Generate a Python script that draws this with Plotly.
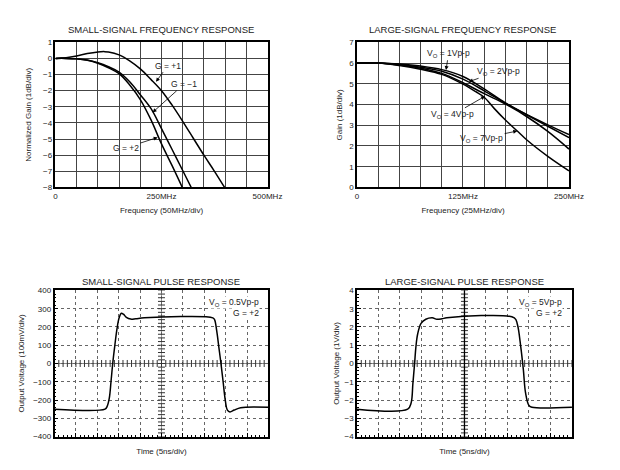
import numpy as np
import plotly.graph_objects as go

# --- small-signal frequency response (MHz, dB) ---
f_g1 = [0, 25, 50, 75, 100, 115, 125, 150, 175, 200, 225, 250, 275, 300, 325, 350, 375, 400]
gain_g1 = [0, 0.04, 0.15, 0.3, 0.4, 0.42, 0.4, 0.22, -0.15, -0.65, -1.3, -2.0, -2.9, -3.9, -4.95, -6.0, -7.0, -8.05]
f_gm1 = [0, 25, 50, 75, 100, 125, 150, 175, 200, 225, 250, 275, 300, 322]
gain_gm1 = [0, 0, -0.03, -0.1, -0.27, -0.52, -0.85, -1.45, -2.25, -3.1, -4.35, -5.65, -6.95, -8.1]
f_g2 = [0, 25, 50, 75, 100, 125, 150, 175, 200, 225, 250, 275, 300]
gain_g2 = [0, 0, -0.03, -0.12, -0.3, -0.58, -0.95, -1.65, -2.55, -3.8, -5.3, -6.65, -8.05]

# --- large-signal frequency response (MHz, dB) ---
f_ls = [0, 25, 50, 75, 100, 125, 150, 175, 200, 225, 250]
gain_1v = [6, 6.0, 5.95, 5.85, 5.68, 5.35, 4.75, 4.08, 3.52, 3.02, 2.55]
gain_2v = [6, 6.0, 5.93, 5.8, 5.6, 5.22, 4.66, 4.06, 3.5, 2.95, 2.4]
gain_4v = [6, 6.0, 5.9, 5.75, 5.5, 5.05, 4.52, 4.02, 3.42, 2.7, 1.85]
f_7v = [0, 25, 50, 75, 100, 125, 140, 150, 162, 175, 189, 200, 225, 250]
gain_7v = [6, 6.0, 5.88, 5.7, 5.45, 4.98, 4.62, 4.35, 3.8, 3.25, 2.72, 2.3, 1.5, 0.8]

# --- small-signal pulse (ns, mV) ---
t_ss = [0, 11.8, 12.3, 12.8, 13.2, 13.6, 14.1, 14.6, 15.1, 15.6, 16.1, 16.8, 17.8, 19.0, 21.0,
        37.0, 37.4, 37.9, 38.4, 38.9, 39.4, 39.9, 40.4, 41.0, 42.0, 43.5, 50]
v_ss = [-250, -250, -235, -190, -100, 0, 100, 190, 250, 275, 270, 252, 243, 245, 250,
        250, 240, 180, 90, 0, -100, -200, -255, -265, -255, -242, -240]

# --- large-signal pulse (ns, V) ---
t_ls = [0, 11.8, 12.6, 13.0, 13.4, 13.7, 14.1, 14.9, 16.0, 17.5, 18.6, 19.8, 20.9,
        36.6, 37.3, 38.1, 38.7, 39.2, 40.0, 40.7, 50]
v_ls = [-2.5, -2.5, -2.15, -1.1, 0, 0.9, 1.6, 2.2, 2.42, 2.5, 2.42, 2.45, 2.5,
        2.5, 2.15, 0.9, -0.35, -1.6, -2.3, -2.4, -2.4]

FONT = "Liberation Sans, Arial, sans-serif"
TXT = "#222"

fig = go.Figure()

def curve(x, y, ax):
    fig.add_trace(go.Scatter(x=x, y=y, mode="lines", line=dict(color="black", width=1.5),
                             line_shape="spline", xaxis="x" + ax, yaxis="y" + ax,
                             showlegend=False, hoverinfo="skip"))

curve(f_g1, gain_g1, "")
curve(f_gm1, gain_gm1, "")
curve(f_g2, gain_g2, "")
curve(f_ls, gain_1v, "2")
curve(f_ls, gain_2v, "2")
curve(f_ls, gain_4v, "2")
curve(f_7v, gain_7v, "2")

# center graticule ticks for the scope plots
for ax, ymin, ystep in (("3", -400, 20), ("4", -4, 0.2)):
    tx = np.arange(0, 51, 1)
    fig.add_trace(go.Scatter(x=tx, y=np.zeros_like(tx, dtype=float), mode="markers",
                             marker=dict(symbol="line-ns", size=5, line=dict(width=1, color="#333")),
                             xaxis="x" + ax, yaxis="y" + ax, showlegend=False, hoverinfo="skip"))
    ty = np.arange(0, 41) * ystep + ymin
    fig.add_trace(go.Scatter(x=np.full_like(ty, 25.0), y=ty, mode="markers",
                             marker=dict(symbol="line-ew", size=5, line=dict(width=1, color="#333")),
                             xaxis="x" + ax, yaxis="y" + ax, showlegend=False, hoverinfo="skip"))

curve(t_ss, v_ss, "3")
curve(t_ls, v_ls, "4")

frame = dict(showline=True, linecolor="black", linewidth=1.5, mirror=True,
             tickfont=dict(family=FONT, size=8, color=TXT), zeroline=False,
             title_font=dict(family=FONT, size=8, color=TXT))
freq_grid = dict(showgrid=True, gridcolor="#444", gridwidth=1, ticks="")
scope = dict(showgrid=True, gridcolor="#666", gridwidth=1, griddash="dot",
             ticks="inside", ticklen=4, tickcolor="black",
             minor=dict(ticks="inside", ticklen=2, tickcolor="black", showgrid=False))

tl_x = list(range(0, 501, 50))
tr_x = list(range(0, 251, 25))
sc_x = list(range(0, 51, 5))

fig.update_layout(
    width=620, height=470, margin=dict(l=0, r=0, t=0, b=0),
    paper_bgcolor="white", plot_bgcolor="white",
    xaxis=dict(domain=[0.0887, 0.4403], range=[0, 500], anchor="y",
               tickvals=tl_x, ticktext=["0", "", "", "", "", "250MHz", "", "", "", "", "500MHz"],
               title=dict(text="Frequency (50MHz/div)", standoff=8), **frame, **freq_grid),
    yaxis=dict(domain=[0.6021, 0.9170], range=[-8, 1], anchor="x", dtick=1,
               title=dict(text="Normalized Gain (1dB/div)", standoff=10), **frame, **freq_grid),
    xaxis2=dict(domain=[0.5887, 0.9403], range=[0, 250], anchor="y2",
                tickvals=tr_x, ticktext=["0", "", "", "", "", "125MHz", "", "", "", "", "250MHz"],
                title=dict(text="Frequency (25MHz/div)", standoff=8), **frame, **freq_grid),
    yaxis2=dict(domain=[0.6021, 0.9170], range=[0, 7], anchor="x2", dtick=1,
                title=dict(text="Gain (1dB/div)", standoff=5), **frame, **freq_grid),
    xaxis3=dict(domain=[0.0871, 0.4419], range=[0, 50], anchor="y3",
                tickvals=sc_x, ticktext=[""] * len(sc_x), minor_dtick=1,
                title=dict(text="Time (5ns/div)", standoff=9), **frame, **scope),
    yaxis3=dict(domain=[0.0617, 0.3787], range=[-400, 400], anchor="x3", dtick=100,
                minor_dtick=20,
                title=dict(text="Output Voltage (100mV/div)", standoff=7), **frame, **scope),
    xaxis4=dict(domain=[0.5887, 0.9452], range=[0, 50], anchor="y4",
                tickvals=sc_x, ticktext=[""] * len(sc_x), minor_dtick=1,
                title=dict(text="Time (5ns/div)", standoff=9), **frame, **scope),
    yaxis4=dict(domain=[0.0617, 0.3787], range=[-4, 4], anchor="x4", dtick=1,
                minor_dtick=0.2,
                title=dict(text="Output Voltage (1V/div)", standoff=4), **frame, **scope),
)

# center lines of the scope graticules
fig.add_shape(type="line", xref="x3 domain", yref="y3", x0=0, x1=1, y0=0, y1=0,
              line=dict(color="#888", width=1), layer="below")
fig.add_shape(type="line", xref="x3", yref="y3 domain", x0=25, x1=25, y0=0, y1=1,
              line=dict(color="#999", width=1), layer="below")
fig.add_shape(type="line", xref="x4 domain", yref="y4", x0=0, x1=1, y0=0, y1=0,
              line=dict(color="#888", width=1), layer="below")
fig.add_shape(type="line", xref="x4", yref="y4 domain", x0=25, x1=25, y0=0, y1=1,
              line=dict(color="black", width=1.3))

titles = [
    ("SMALL-SIGNAL FREQUENCY RESPONSE", 0.2645, 0.944),
    ("LARGE-SIGNAL FREQUENCY RESPONSE", 0.7645, 0.944),
    ("SMALL-SIGNAL PULSE RESPONSE", 0.2645, 0.398),
    ("LARGE-SIGNAL PULSE RESPONSE", 0.7670, 0.398),
]
for text, x, y in titles:
    fig.add_annotation(text=text, x=x, y=y, xref="paper", yref="paper", showarrow=False,
                       xanchor="center", yanchor="middle",
                       font=dict(family=FONT, size=9.5, color=TXT))

label_font = dict(family=FONT, size=8.5, color=TXT)
arrows = [
    # text, tip x, tip y, text x, text y, axis
    ("G = +1", 237, -1.45, 265, -0.45, ""),
    ("G = −1", 229, -3.35, 303, -1.6, ""),
    ("G = +2", 241, -4.9, 166, -5.54, ""),
    ("V<sub>O</sub> = 1Vp-p", 105, 5.66, 108, 6.47, "2"),
    ("V<sub>O</sub> = 2Vp-p", 132, 5.1, 167, 5.6, "2"),
    ("V<sub>O</sub> = 4Vp-p", 151, 4.4, 113, 3.5, "2"),
    ("V<sub>O</sub> = 7Vp-p", 189, 2.72, 147, 2.37, "2"),
]
for text, x, y, ax_, ay_, a in arrows:
    fig.add_annotation(text=text, x=x, y=y, ax=ax_, ay=ay_, xref="x" + a, yref="y" + a,
                       axref="x" + a, ayref="y" + a, showarrow=True, arrowhead=2,
                       arrowsize=1, arrowwidth=0.8, arrowcolor="black", font=label_font)

notes = [
    ("V<sub>O</sub> = 0.5Vp-p", 332, "3"),
    ("G = +2", 274, "3"),
    ("V<sub>O</sub> = 5Vp-p", 3.32, "4"),
    ("G = +2", 2.74, "4"),
]
for text, y, a in notes:
    fig.add_annotation(text=text, x=48, y=y, xref="x" + a, yref="y" + a, xanchor="right",
                       showarrow=False, font=label_font, bgcolor="white", borderpad=0)

fig.write_html("out.html", config={"displayModeBar": False},
               post_script="document.body.style.margin='0';")
